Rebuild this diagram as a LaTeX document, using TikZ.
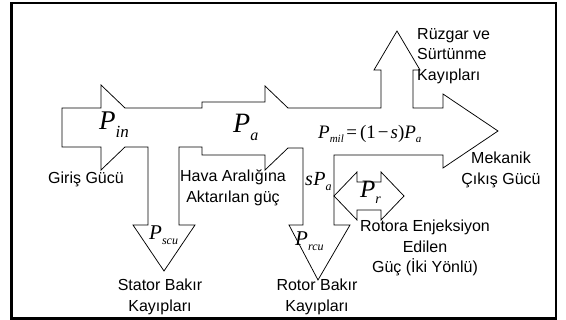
\documentclass[tikz,border=0pt]{standalone}
\usepackage{fontspec}
\setmainfont{Liberation Sans}
\newfontfamily\tmsfont{Liberation Serif}
\usetikzlibrary{positioning}

% italic power symbol P with a lowered subscript
\newcommand{\powsym}[4]{{\tmsfont\itshape\fontsize{#1}{#1}\selectfont P\raisebox{-#4}{\fontsize{#2}{#2}\selectfont #3}}}

\begin{document}
\begin{tikzpicture}[x=1pt, y=-1pt,
    every node/.style={inner sep=0pt, font=\fontsize{16}{20.5}\selectfont},
    frame/.style={draw=black, line width=2.6pt},
    flow/.style={draw=black, line width=0.75pt, line join=miter},
    caption/.style={align=center},
    symbol/.style={anchor=base west}
  ]
    \useasboundingbox (0,0) rectangle (566,320);
    \draw[frame] (11.7,3.2) rectangle (556,318.5);

    % power flow outline: input, air gap, shaft output and the loss branches
    \draw[flow] (62,108) -- (101,108) -- (101,85) -- (125,108) -- (202,108) -- (202,102)
      -- (265,102) -- (265,86) -- (288,108) -- (381,108) -- (381,70) -- (374,70)
      -- (397,31) -- (420,70) -- (413,70) -- (413,108) -- (443,108) -- (443,94)
      -- (498,131) -- (443,168) -- (443,155) -- (334,155) -- (334,225) -- (350,225)
      -- (318,280) -- (289,225) -- (303,225) -- (303,148) -- (288,148) -- (265,170)
      -- (265,155) -- (202,155) -- (202,147) -- (179,147) -- (179,225) -- (195,225)
      -- (164,271) -- (133,225) -- (148,225) -- (148,147) -- (125,147) -- (101,170)
      -- (101,147) -- (62,147) -- cycle;

    % two-way rotor injection
    \draw[flow] (334,196) -- (357,172) -- (357,182) -- (381,182) -- (381,172) -- (404,196)
      -- (381,220) -- (381,210) -- (357,210) -- (357,220) -- cycle;

    \node[symbol] (pIn) at (99,130) {\powsym{27}{17}{in}{7.5pt}};
    \node[symbol] (pA) at (233,133) {\powsym{28}{16}{a}{8pt}};
    \node[symbol] (pMil) at (318,139) {\tmsfont\fontsize{19}{19}\selectfont\textit{P}\raisebox{-4pt}{\fontsize{11}{11}\selectfont\textit{mil}}\kern2.5pt=\kern3pt(1\kern2pt−\kern2pt\textit{s})\textit{P}\raisebox{-4pt}{\fontsize{11}{11}\selectfont\textit{a}}};
    \node[symbol] (sPa) at (305,186) {\tmsfont\itshape\fontsize{20}{20}\selectfont s\kern0.5pt P\raisebox{-5pt}{\fontsize{12}{12}\selectfont a}};
    \node[symbol] (pR) at (360,198) {\powsym{25}{14}{r}{6pt}};
    \node[symbol] (pScu) at (149,240) {\powsym{21}{12}{scu}{5pt}};
    \node[symbol] (pRcu) at (295,246) {\powsym{21}{12}{rcu}{5pt}};

    \node[caption] (inputLbl) at (86,179) {Giriş Gücü};
    \node[caption] (gapLbl) at (233,188) {Hava Aralığına\\Aktarılan güç};
    \node[caption] (statorLbl) at (160,297) {Stator Bakır\\Kayıpları};
    \node[caption] (rotorLbl) at (317,297) {Rotor Bakır\\Kayıpları};
    \node[caption] (injectLbl) at (425,248) {Rotora Enjeksiyon\\Edilen\\Güç (İki Yönlü)};
    \node[caption] (mechLbl) at (501,170) {Mekanik\\Çıkış Gücü};
    \node[caption, align=left, anchor=west] (windLbl) at (417,56) {Rüzgar ve\\Sürtünme\\Kayıpları};
\end{tikzpicture}
\end{document}
